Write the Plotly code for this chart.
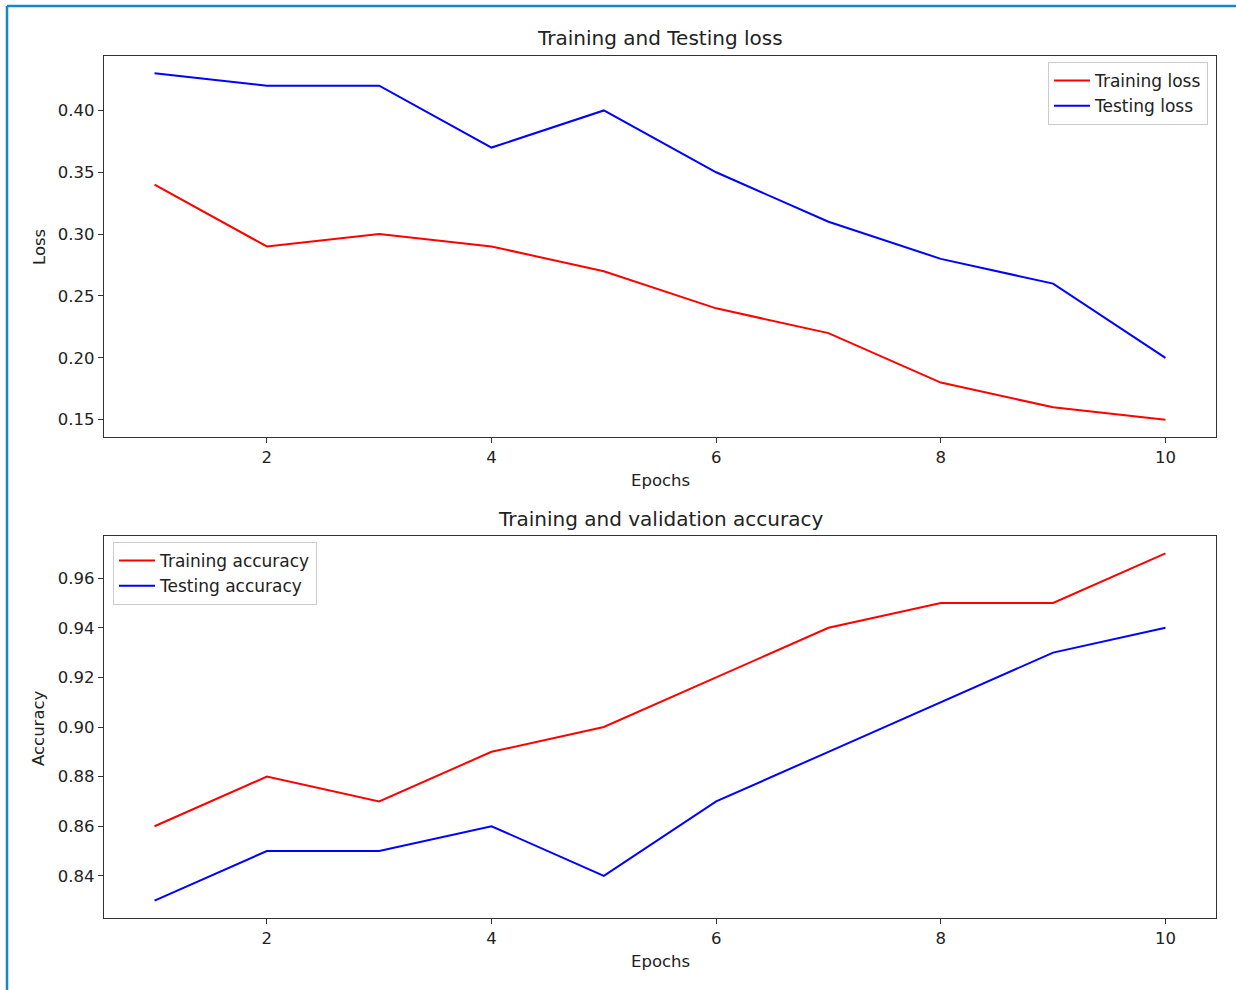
import plotly.graph_objects as go

epochs = [1, 2, 3, 4, 5, 6, 7, 8, 9, 10]
train_loss = [0.34, 0.29, 0.30, 0.29, 0.27, 0.24, 0.22, 0.18, 0.16, 0.15]
test_loss = [0.43, 0.42, 0.42, 0.37, 0.40, 0.35, 0.31, 0.28, 0.26, 0.20]
train_acc = [0.86, 0.88, 0.87, 0.89, 0.90, 0.92, 0.94, 0.95, 0.95, 0.97]
test_acc = [0.83, 0.85, 0.85, 0.86, 0.84, 0.87, 0.89, 0.91, 0.93, 0.94]

W, H = 1236, 990
FONT = "DejaVu Sans"
TXT = "#222222"
TICK_SIZE = 16.5
LEG_SIZE = 17
TITLE_SIZE = 20


def px(x):
    return x / W


def py(y):
    return 1 - y / H


fig = go.Figure()
fig.add_trace(go.Scatter(x=epochs, y=train_loss, mode="lines", name="Training loss",
                         line=dict(color="red", width=2), xaxis="x", yaxis="y", legend="legend"))
fig.add_trace(go.Scatter(x=epochs, y=test_loss, mode="lines", name="Testing loss",
                         line=dict(color="blue", width=2), xaxis="x", yaxis="y", legend="legend"))
fig.add_trace(go.Scatter(x=epochs, y=train_acc, mode="lines", name="Training accuracy",
                         line=dict(color="red", width=2), xaxis="x2", yaxis="y2", legend="legend2"))
fig.add_trace(go.Scatter(x=epochs, y=test_acc, mode="lines", name="Testing accuracy",
                         line=dict(color="blue", width=2), xaxis="x2", yaxis="y2", legend="legend2"))

axis_common = dict(showline=True, mirror=True, linecolor="#333333", linewidth=1.3,
                   ticks="outside", ticklen=5, tickwidth=1.2, tickcolor="#333333",
                   showgrid=False, zeroline=False,
                   tickfont=dict(family=FONT, size=TICK_SIZE, color=TXT))

xd = [px(104), px(1216)]
leg_common = dict(bgcolor="rgba(255,255,255,0.8)", bordercolor="#cccccc", borderwidth=1,
                  font=dict(family=FONT, size=LEG_SIZE, color=TXT), tracegroupgap=0,
                  itemwidth=36)
fig.update_layout(
    width=W, height=H,
    margin=dict(l=0, r=0, t=0, b=0),
    paper_bgcolor="white", plot_bgcolor="white",
    font=dict(family=FONT, size=TICK_SIZE, color=TXT),
    xaxis=dict(domain=xd, anchor="y", range=[0.55, 10.45], tickvals=[2, 4, 6, 8, 10], **axis_common),
    yaxis=dict(domain=[py(437), py(56)], anchor="x", range=[0.136, 0.444],
               tickvals=[0.15, 0.20, 0.25, 0.30, 0.35, 0.40], tickformat=".2f", **axis_common),
    xaxis2=dict(domain=xd, anchor="y2", range=[0.55, 10.45], tickvals=[2, 4, 6, 8, 10], **axis_common),
    yaxis2=dict(domain=[py(918), py(536)], anchor="x2", range=[0.823, 0.977],
                tickvals=[0.84, 0.86, 0.88, 0.90, 0.92, 0.94, 0.96], tickformat=".2f", **axis_common),
    legend=dict(x=px(1208), y=py(62), xanchor="right", yanchor="top", **leg_common),
    legend2=dict(x=px(113), y=py(542), xanchor="left", yanchor="top", **leg_common),
    showlegend=True,
)

annots = [
    dict(text="Training and Testing loss", x=px(660), y=py(38), size=TITLE_SIZE, angle=0),
    dict(text="Epochs", x=px(660), y=py(480), size=TICK_SIZE, angle=0),
    dict(text="Loss", x=px(40), y=py(247), size=TICK_SIZE, angle=-90),
    dict(text="Training and validation accuracy", x=px(660), y=py(519), size=TITLE_SIZE, angle=0),
    dict(text="Epochs", x=px(660), y=py(961), size=TICK_SIZE, angle=0),
    dict(text="Accuracy", x=px(38), y=py(728), size=TICK_SIZE, angle=-90),
]
for a in annots:
    fig.add_annotation(text=a["text"], x=a["x"], y=a["y"], xref="paper", yref="paper",
                       xanchor="center", yanchor="middle", showarrow=False, textangle=a["angle"],
                       font=dict(family=FONT, size=a["size"], color=TXT))

# outer blue frame (top and left edges)
border = "#1A87C5"
fig.add_shape(type="line", xref="paper", yref="paper", x0=px(7), x1=1.0, y0=py(6), y1=py(6),
              line=dict(color=border, width=2.5))
fig.add_shape(type="line", xref="paper", yref="paper", x0=px(7), x1=px(7), y0=0, y1=py(6),
              line=dict(color=border, width=2.5))

fig.write_html("out.html", config={"displayModeBar": False},
               post_script="document.body.style.margin='0';document.body.style.overflow='hidden';")
